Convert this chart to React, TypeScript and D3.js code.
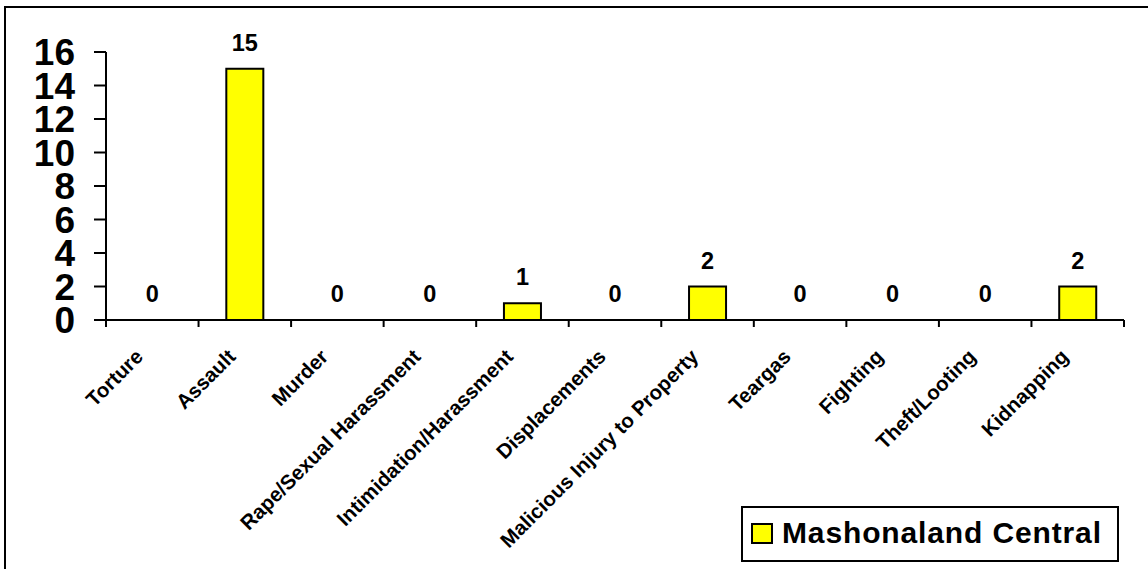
import React from 'react';
import * as d3 from 'd3';

// chart data
const categories = [
  'Torture',
  'Assault',
  'Murder',
  'Rape/Sexual Harassment',
  'Intimidation/Harassment',
  'Displacements',
  'Malicious Injury to Property',
  'Teargas',
  'Fighting',
  'Theft/Looting',
  'Kidnapping'
];
const values = [0, 15, 0, 0, 1, 0, 2, 0, 0, 0, 2];
const yTicks = [0, 2, 4, 6, 8, 10, 12, 14, 16];
const seriesName = 'Mashonaland Central';

const W = 1148;
const H = 569;
const FONT = '"Liberation Sans", Arial, Helvetica, sans-serif';

const App: React.FC = () => {
  const plot = { left: 106, right: 1124, top: 52, bottom: 320 };
  const x = d3.scaleBand<string>().domain(categories).range([plot.left, plot.right]).padding(0);
  const y = d3.scaleLinear().domain([0, 16]).range([plot.bottom, plot.top]);
  const barW = x.bandwidth() * 0.4;
  const tickXs = [...categories.map(c => x(c) || 0), plot.right];

  return (
    <svg width={W} height={H} style={{ position: 'absolute', left: 0, top: 0, background: '#fff' }} fontFamily={FONT}>
      {/* outer chart border */}
      <rect x={5} y={7} width={W + 10} height={H + 10} fill="#fff" stroke="#000" strokeWidth={2} />

      {/* bars */}
      {categories.map((c, i) => {
        const cx = (x(c) || 0) + x.bandwidth() / 2;
        return values[i] > 0 ? (
          <rect key={c} x={cx - barW / 2} y={y(values[i])} width={barW} height={y(0) - y(values[i])} fill="#FFFF00" stroke="#000" strokeWidth={2} />
        ) : null;
      })}

      {/* y axis */}
      <line x1={plot.left} x2={plot.left} y1={y(16)} y2={y(0)} stroke="#000" strokeWidth={2} />
      {yTicks.map(t => (
        <g key={t}>
          <line x1={plot.left - 12} x2={plot.left} y1={y(t)} y2={y(t)} stroke="#000" strokeWidth={2} />
          <text x={75} y={y(t)} dy="0.36em" textAnchor="end" fontSize={37} fontWeight="bold">{t}</text>
        </g>
      ))}

      {/* x axis */}
      <line x1={plot.left - 12} x2={plot.right} y1={y(0)} y2={y(0)} stroke="#000" strokeWidth={2} />
      {tickXs.map((tx, i) => (
        <line key={i} x1={tx} x2={tx} y1={y(0)} y2={y(0) + 7} stroke="#000" strokeWidth={2} />
      ))}

      {/* category labels */}
      {categories.map(c => {
        const cx = (x(c) || 0) + x.bandwidth() / 2;
        const ex = cx - 8;
        const ey = 358;
        return (
          <text key={c} x={ex} y={ey} textAnchor="end" fontSize={20.5} fontWeight="bold" transform={`rotate(-45 ${ex} ${ey})`}>{c}</text>
        );
      })}

      {/* value labels */}
      {categories.map((c, i) => {
        const cx = (x(c) || 0) + x.bandwidth() / 2;
        return (
          <text key={c} x={cx} y={y(values[i]) - 18} textAnchor="middle" fontSize={23.5} fontWeight="bold">{values[i]}</text>
        );
      })}

      {/* legend */}
      <rect x={742} y={507} width={376} height={54} fill="#fff" stroke="#000" strokeWidth={2} />
      <rect x={752} y={524} width={20} height={19} fill="#FFFF00" stroke="#000" strokeWidth={2} />
      <text x={782} y={543} fontSize={30} fontWeight="bold" textLength={319} lengthAdjust="spacing">{seriesName}</text>
    </svg>
  );
};

export default App;
